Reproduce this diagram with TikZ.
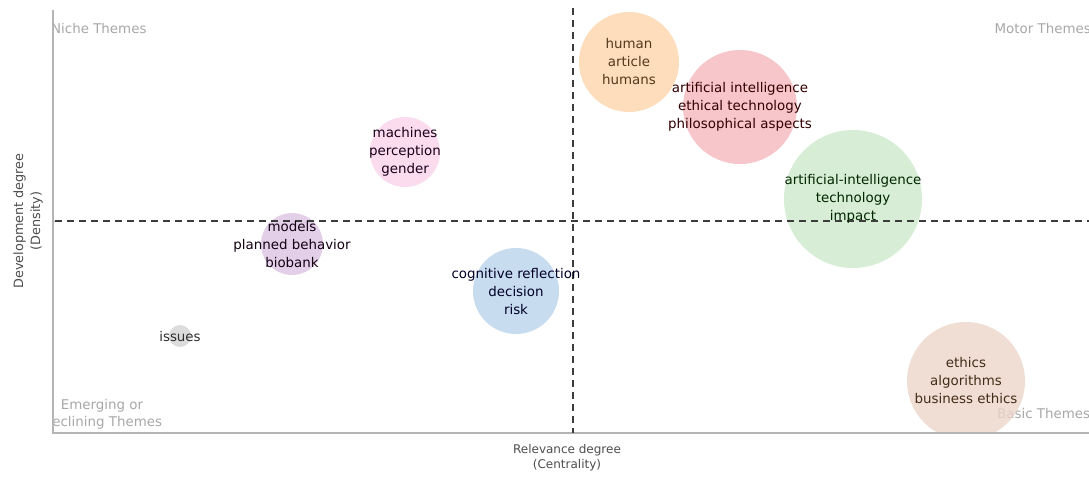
\documentclass[tikz,border=0pt]{standalone}
\usepackage{fontspec}
\setmainfont{DejaVu Sans}
\definecolor{corange}{HTML}{FDDCB8}
\definecolor{cred}{HTML}{F6C3C8}
\definecolor{cgreen}{HTML}{D5EDD3}
\definecolor{cbrown}{HTML}{EDD6CB}
\definecolor{cpink}{HTML}{FADCEE}
\definecolor{cpurple}{HTML}{E3D0E8}
\definecolor{cblue}{HTML}{C8DCF0}
\definecolor{cgray}{HTML}{DCDCDC}
\definecolor{quadtxt}{HTML}{A8A8A8}
\definecolor{axisc}{HTML}{B4B4B4}
\definecolor{dashc}{HTML}{3C3C3C}
\definecolor{bubtxt}{HTML}{2E2E2E}
\begin{document}
\begin{tikzpicture}[x=1pt,y=-1pt,
  bubble/.style={circle,draw=none,inner sep=0pt,minimum size=#1},
  bubtext/.style={text=bubtxt,align=center,inner sep=0pt,font=\fontsize{13.4}{18}\selectfont},
  quad/.style={text=quadtxt,inner sep=0pt,font=\fontsize{13.4}{17}\selectfont},
  axislab/.style={text=bubtxt!85,align=center,inner sep=0pt,font=\fontsize{12}{15}\selectfont},
  axisline/.style={draw=axisc,line width=1.6pt},
  divider/.style={draw=dashc,line width=1.3pt,dash pattern=on 7pt off 5pt}]
\useasboundingbox (0,0) rectangle (1089,477);
\fill[white] (0,0) rectangle (1089,477);
% quadrant labels
\begin{scope}
\clip (53,0) rectangle (1089,433);
\node[quad,anchor=west] (niche) at (51,29) {Niche Themes};
\node[quad,anchor=east] (motor) at (1091,29) {Motor Themes};
\node[quad,align=center] (emerg) at (102,414) {Emerging or\\Declining Themes};
\node[quad,anchor=west] (basic) at (997,413) {Basic Themes};
\end{scope}
% bubbles
\begin{scope}
\clip (53,0) rectangle (1089,433);
\node[bubble=100pt,fill=corange,fill opacity=0.95] (b1) at (629,62) {};
\node[bubble=114pt,fill=cred,fill opacity=0.95] (b2) at (740,107) {};
\node[bubble=138pt,fill=cgreen,fill opacity=0.95] (b3) at (853,199) {};
\node[bubble=118pt,fill=cbrown,fill opacity=0.8] (b4) at (966,381) {};
\node[bubble=70pt,fill=cpink] (b5) at (405,152) {};
\node[bubble=62pt,fill=cpurple] (b6) at (292,244) {};
\node[bubble=86pt,fill=cblue] (b7) at (516,291) {};
\node[bubble=22pt,fill=cgray] (b8) at (180,336) {};
\end{scope}
% axes
\coordinate (ytop) at (53,10);
\coordinate (orig) at (53,433);
\coordinate (xend) at (1089,433);
\draw[axisline] (ytop) -- (orig) -- (xend);
\coordinate (xt) at (573,433);
\coordinate (xt2) at (573,429);
\draw[axisc,line width=1pt] (xt) -- (xt2);
\coordinate (yt) at (53,221);
\coordinate (yt2) at (58,221);
\draw[axisc,line width=1pt] (yt) -- (yt2);
% dividers
\coordinate (vtop) at (573,8);
\coordinate (vbot) at (573,433);
\coordinate (hl) at (55,221);
\coordinate (hr) at (1089,221);
\draw[divider] (vtop) -- (vbot);
\draw[divider] (hl) -- (hr);
% bubble texts
\node[bubtext,text=brown!45!black] (t1) at (b1.center) {human\\article\\humans};
\node[bubtext,text=red!20!black] (t2) at (b2.center) {artificial intelligence\\ethical technology\\philosophical aspects};
\node[bubtext,text=green!15!black] (t3) at (b3.center) {artificial-intelligence\\technology\\impact};
\node[bubtext,text=brown!35!black] (t4) at ([yshift=1pt]b4.center) {ethics\\algorithms\\business ethics};
\node[bubtext,text=violet!20!black] (t5) at (b5.center) {machines\\perception\\gender};
\node[bubtext,text=violet!15!black] (t6) at (b6.center) {models\\planned behavior\\biobank};
\node[bubtext,text=blue!15!black] (t7) at (b7.center) {cognitive reflection\\decision\\risk};
\node[bubtext] (t8) at (b8.center) {issues};
% axis labels
\node[axislab] (xlab) at (567,458) {Relevance degree\\(Centrality)};
\node[axislab,rotate=90,font=\fontsize{12.8}{17}\selectfont] (ylab) at (28,221) {Development degree\\(Density)};
\end{tikzpicture}
\end{document}
